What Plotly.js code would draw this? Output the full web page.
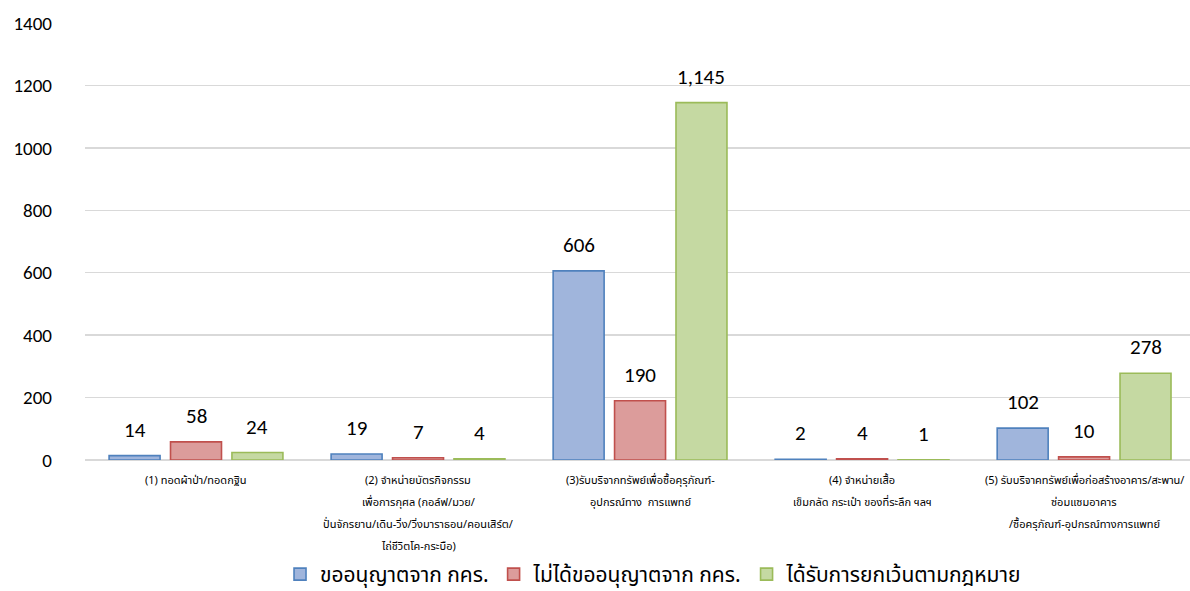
<!DOCTYPE html>
<html>
<head>
<meta charset="utf-8">
<script src="https://cdn.plot.ly/plotly-3.0.1.min.js"></script>
<style>
  html, body { margin: 0; padding: 0; background: #fff; }
  #chart { width: 1190px; height: 591px; }
</style>
</head>
<body>
<div id="chart"></div>
<script>
// Activity categories (each entry split into its display lines)
const categoryLines = [
  ["(1) ทอดผ้าป่า/ทอดกฐิน"],
  ["(2) จำหน่ายบัตรกิจกรรม", "เพื่อการกุศล (กอล์ฟ/มวย/", "ปั่นจักรยาน/เดิน-วิ่ง/วิ่งมาราธอน/คอนเสิร์ต/", "ไถ่ชีวิตโค-กระบือ)"],
  ["(3)รับบริจากทรัพย์เพื่อซื้อคุรุภัณฑ์-", "อุปกรณ์ทาง  การแพทย์"],
  ["(4) จำหน่ายเสื้อ", "เข็มกลัด กระเป๋า ของที่ระลึก ฯลฯ"],
  ["(5) รับบริจาคทรัพย์เพื่อก่อสร้างอาคาร/สะพาน/", "ซ่อมแซมอาคาร", "/ซื้อครุภัณฑ์-อุปกรณ์ทางการแพทย์"]
];
const categories = ["c1", "c2", "c3", "c4", "c5"];

// Series names
const seriesNames = ["ขออนุญาตจาก กคร.", "ไม่ได้ขออนุญาตจาก กคร.", "ได้รับการยกเว้นตามกฎหมาย"];

// Counts per category
const permitted    = [14, 19, 606, 2, 102];
const notPermitted = [58, 7, 190, 4, 10];
const exempt       = [24, 4, 1145, 1, 278];

const yTicks = [0, 200, 400, 600, 800, 1000, 1200, 1400];

const fills   = ["#a0b5dc", "#dc9c9b", "#c5d9a2"];
const borders = ["#4f81bd", "#c0504d", "#9bbb59"];

const BARGAP = 0.17;
const GROUPGAP = 0.17;
const latinFont = "Calibri, Carlito, Lato, 'Open Sans', sans-serif";
const valueFont = { family: latinFont, size: 21, color: "#000" };
const thaiFont = "Tahoma, 'Noto Sans Thai', 'Noto Sans Thai UI', 'Leelawadee UI', 'Noto Sans', sans-serif";

const seriesValues = [permitted, notPermitted, exempt];

const traces = seriesValues.map((vals, k) => ({
  type: "bar",
  name: seriesNames[k],
  x: categories,
  y: vals,
  marker: { color: fills[k], line: { color: borders[k], width: 1.6 } },
  hoverinfo: "y"
}));

const annotations = [];
// Value labels above each bar, centred on the bar's slot in its group
const slot = (1 - BARGAP) / 3;
seriesValues.forEach((vals, k) => {
  vals.forEach((v, i) => {
    annotations.push({
      x: i + (k - 1) * slot,
      y: v,
      xref: "x", yref: "y",
      text: v.toLocaleString("en-US"),
      showarrow: false,
      yanchor: "bottom",
      yshift: 11,
      font: valueFont
    });
  });
});
// Multi-line category labels under the axis
categoryLines.forEach((lines, i) => {
  lines.forEach((line, j) => {
    annotations.push({
      x: i, y: 0,
      xref: "x", yref: "paper",
      text: line,
      showarrow: false,
      yanchor: "middle",
      yshift: -20 - j * 22,
      font: { family: thaiFont, size: 11, color: "#000" }
    });
  });
});

const layout = {
  width: 1190,
  height: 591,
  margin: { l: 85, r: 0, t: 23, b: 131, autoexpand: false },
  paper_bgcolor: "#fff",
  plot_bgcolor: "#fff",
  barmode: "group",
  bargap: BARGAP,
  bargroupgap: GROUPGAP,
  showlegend: true,
  legend: {
    orientation: "h",
    x: 0.5145, xanchor: "center",
    y: -0.262, yanchor: "middle",
    font: { family: thaiFont, size: 21, color: "#000" },
    itemwidth: 30,
    traceorder: "normal"
  },
  xaxis: {
    type: "category",
    range: [-0.5, 4.477],
    showticklabels: false,
    showgrid: false,
    zeroline: false,
    showline: false,
    ticks: ""
  },
  yaxis: {
    range: [0, 1400],
    tickvals: yTicks,
    ticktext: yTicks.map(String),
    showgrid: true,
    gridcolor: "#d9d9d9",
    gridwidth: 1.5,
    zeroline: true,
    zerolinecolor: "#d9d9d9",
    zerolinewidth: 1.5,
    showline: false,
    ticks: "",
    ticklabelstandoff: 32,
    tickfont: { family: latinFont, size: 19, color: "#000" }
  },
  annotations: annotations
};

Plotly.newPlot("chart", traces, layout, { displayModeBar: false, staticPlot: true });
</script>
</body>
</html>
